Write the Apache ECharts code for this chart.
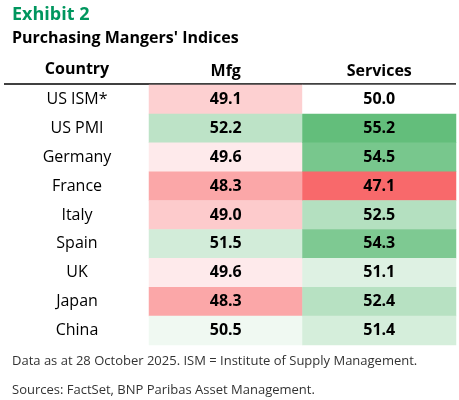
<!DOCTYPE html>
<html>
<head>
<meta charset="utf-8">
<script src="https://cdn.jsdelivr.net/npm/echarts@6/dist/echarts.min.js"></script>
<style>
html,body{margin:0;padding:0;background:#fff;}
#c{width:459px;height:400px;}
</style>
</head>
<body>
<div id="c"></div>
<script>
var countries = ['US ISM*', 'US PMI', 'Germany', 'France', 'Italy', 'Spain', 'UK', 'Japan', 'China'];
var columns = ['Mfg', 'Services'];
var mfg = [49.1, 52.2, 49.6, 48.3, 49.0, 51.5, 49.6, 48.3, 50.5];
var services = [50.0, 55.2, 54.5, 47.1, 52.5, 54.3, 51.1, 52.4, 51.4];

var FONT = 'Open Sans';
var allVals = mfg.concat(services);
var vMin = Math.min.apply(null, allVals);
var vMax = Math.max.apply(null, allVals);
var vMid = 50;
var red = [248, 105, 107], white = [255, 255, 255], green = [99, 190, 123];
function mix(a, b, t) {
  return 'rgb(' + a.map(function (v, i) { return Math.round(v + (b[i] - v) * t); }).join(',') + ')';
}
function colorFor(v) {
  if (v <= vMid) return mix(white, red, (vMid - v) / (vMid - vMin));
  return mix(white, green, (v - vMid) / (vMax - vMid));
}

var data = [];
[mfg, services].forEach(function (arr, ci) {
  arr.forEach(function (v, ri) {
    data.push({ value: [ci, ri, v], itemStyle: { color: colorFor(v) } });
  });
});

var chart = echarts.init(document.getElementById('c'), null, { renderer: 'canvas' });
chart.setOption({
  animation: false,
  title: [
    { text: 'Exhibit 2', left: 7, top: 1, textStyle: { fontFamily: FONT, fontSize: 18, fontWeight: 'bold', color: '#00965E' } },
    { text: "Purchasing Mangers' Indices", left: 7, top: 25, textStyle: { fontFamily: FONT, fontSize: 16, fontWeight: 'bold', color: '#000' } },
    { text: 'Data as at 28 October 2025. ISM = Institute of Supply Management.', left: 7, top: 350, textStyle: { fontFamily: FONT, fontSize: 13, fontWeight: 'normal', color: '#333' } },
    { text: 'Sources: FactSet, BNP Paribas Asset Management.', left: 7, top: 379, textStyle: { fontFamily: FONT, fontSize: 13, fontWeight: 'normal', color: '#333' } }
  ],
  grid: { left: 149, right: 3, top: 85, bottom: 55 },
  xAxis: {
    type: 'category', data: columns, position: 'top',
    axisLine: { show: false }, axisTick: { show: false }, splitLine: { show: false },
    axisLabel: { margin: 6, fontFamily: FONT, fontSize: 16, fontWeight: 'bold', color: '#000' }
  },
  yAxis: {
    type: 'category', data: countries, inverse: true,
    axisLine: { show: false }, axisTick: { show: false }, splitLine: { show: false },
    axisLabel: { margin: 72, align: 'center', fontFamily: FONT, fontSize: 16, color: '#000' }
  },
  series: [{
    type: 'heatmap',
    data: data,
    label: {
      show: true, fontFamily: FONT, fontSize: 16, fontWeight: 'bold', color: '#000',
      formatter: function (p) { return p.value[2].toFixed(1); }
    },
    itemStyle: { borderWidth: 0 }
  }],
  graphic: [
    { type: 'text', x: 77, y: 69, style: { text: 'Country', font: 'bold 16px "' + FONT + '"', fill: '#000', align: 'center', verticalAlign: 'middle' } },
    { type: 'line', shape: { x1: 4, y1: 84, x2: 456, y2: 84 }, style: { stroke: '#000', lineWidth: 1.5 } }
  ]
});
</script>
</body>
</html>
